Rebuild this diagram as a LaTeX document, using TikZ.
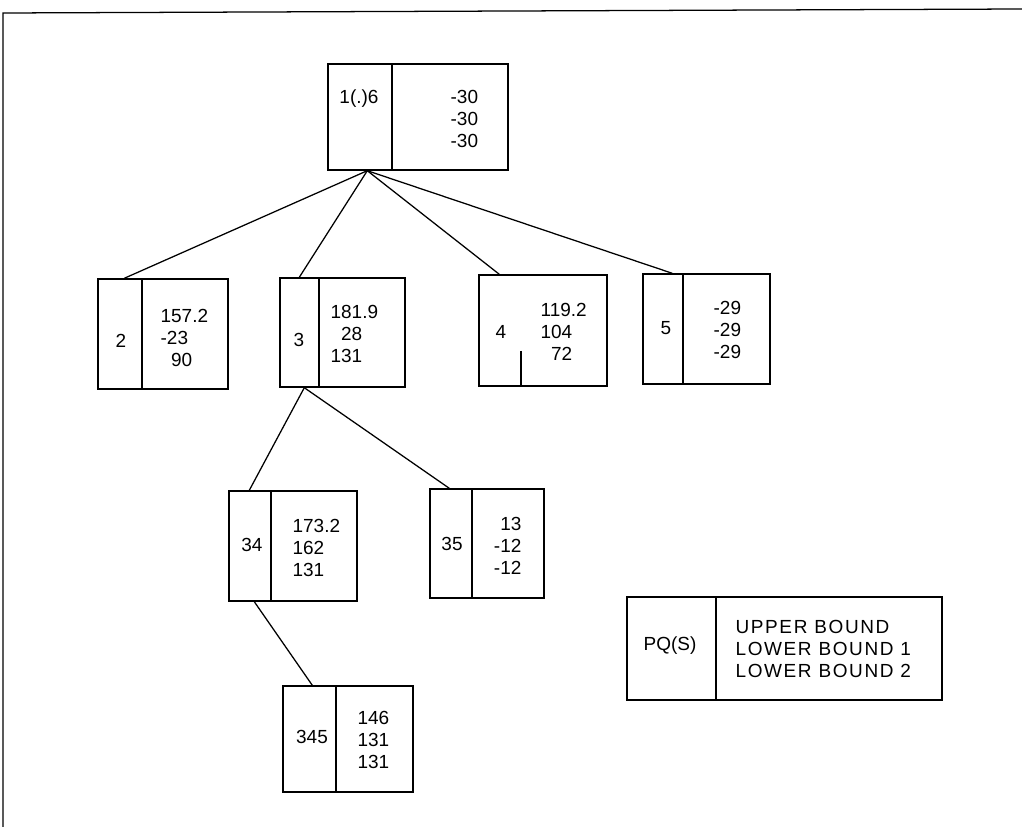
\documentclass[tikz,border=0pt]{standalone}
\usepackage{fontspec}
\setmainfont{Liberation Sans}
\usetikzlibrary{fit,calc}
\begin{document}
\begin{tikzpicture}[x=0.025cm,y=-0.025cm,line width=0.9pt,
        every node/.style={font=\fontsize{13.5}{15.6}\selectfont,inner sep=0pt},
        cell/.style={draw,line width=1pt},
        vals/.style={align=left,anchor=west}]
    \useasboundingbox (0,0) rectangle (1022,827);
    % page frame
    \draw (3,827) -- (3,13) -- (1022,9);

    % root
    \node[cell, fit={(328,64) (508,170)}] (root) {};
    \draw (392,64) -- (392,170);
    \node (root-l) at (359,99) {1(.)6};
    \node[vals] (root-r) at (450,119) {-30\\-30\\-30};

    % first level
    \node[cell, fit={(98,279) (228,389)}] (n2) {};
    \draw (142,279) -- (142,389);
    \node (n2-l) at (121,341) {2};
    \node[vals] (n2-r) at (160,338) {157.2\\-23\\\hphantom{0}90};

    \node[cell, fit={(280,278) (405,387)}] (n3) {};
    \draw (319,278) -- (319,387);
    \node (n3-l) at (299,340) {3};
    \node[vals] (n3-r) at (330,334) {181.9\\\hphantom{0}28\\131};

    \node[cell, fit={(479,275) (607,386)}] (n4) {};
    \draw (521,351) -- (521,386);
    \node (n4-l) at (501,332) {4};
    \node[vals] (n4-r) at (540,332) {119.2\\104\\\hphantom{0}72};

    \node[cell, fit={(643,274) (770,384)}] (n5) {};
    \draw (683,274) -- (683,384);
    \node (n5-l) at (666,328) {5};
    \node[vals] (n5-r) at (713,330) {-29\\-29\\-29};

    % second level
    \node[cell, fit={(229,491) (357,601)}] (n34) {};
    \draw (271,491) -- (271,601);
    \node (n34-l) at (252,545) {34};
    \node[vals] (n34-r) at (292,548) {173.2\\162\\131};

    \node[cell, fit={(430,489) (544,598)}] (n35) {};
    \draw (472,489) -- (472,598);
    \node (n35-l) at (452,544) {35};
    \node[align=right,anchor=east] (n35-r) at (522,546) {13\\-12\\-12};

    % third level
    \node[cell, fit={(283,686) (413,792)}] (n345) {};
    \draw (336,686) -- (336,792);
    \node (n345-l) at (312,737) {345};
    \node[vals] (n345-r) at (357,740) {146\\131\\131};

    % legend
    \node[cell, fit={(627,597) (942,700)}] (key) {};
    \draw (716,597) -- (716,700);
    \node (key-l) at (670,646) {PQ(S)};
    \node[vals,font=\fontsize{13.5}{15.6}\selectfont\addfontfeatures{LetterSpace=8.5}] (key-r) at (735,649)
        {UPPER BOUND\\LOWER BOUND 1\\LOWER BOUND 2};

    % branches
    \draw ($(root.south west)+(40,0)$) -- ($(n2.north west)+(27,0)$);
    \draw ($(root.south west)+(40,0)$) -- ($(n3.north west)+(20,0)$);
    \draw ($(root.south west)+(40,0)$) -- ($(n4.north west)+(21,0)$);
    \draw ($(root.south west)+(40,0)$) -- ($(n5.north west)+(30,0)$);
    \draw ($(n3.south west)+(25,0)$) -- ($(n34.north west)+(21,0)$);
    \draw ($(n3.south west)+(25,0)$) -- ($(n35.north west)+(20,0)$);
    \draw ($(n34.south west)+(26,0)$) -- ($(n345.north west)+(30,0)$);
\end{tikzpicture}
\end{document}
